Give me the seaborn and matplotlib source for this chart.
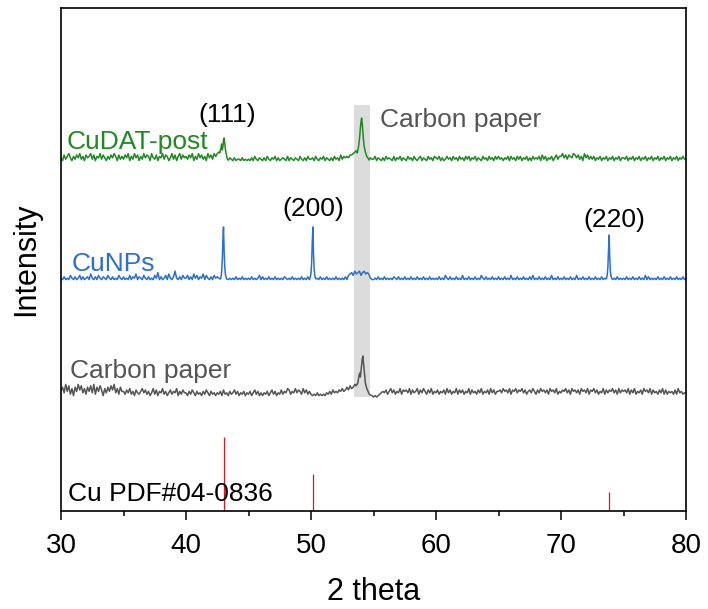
import numpy as np
import pandas as pd
import matplotlib
matplotlib.use("Agg")
import matplotlib.pyplot as plt
from matplotlib.ticker import MultipleLocator
import seaborn as sns

# ---- scan grid (2θ, degrees, 0.125° step) ----
two_theta = np.linspace(30, 80, 401)

# ---- background counts on the grid, one digit per step (arbitrary units) ----
cudat_base = [int(c) for c in (
    "3152463142" "5362415346" "2514362531" "4253641524"
    "2536142635" "1426354163" "2514362541" "3625146253"
    "4253614263" "5241635264" "6700000032" "1312213121"
    "2131421321" "3142132413" "1232141321" "3214213142"
    "2314213241" "3213142315" "2434355678" "0000000032"
    "2413213142" "3214132413" "2142314213" "4132142314"
    "3241312423" "1423142314" "2413241321" "4231423142"
    "4231324142" "3142413241" "3142324152" "4132413524"
    "4635254365" "3524163524" "2413241324" "1324132413"
    "3241324132" "4132413241" "3241324132" "4132413242"
    "2"
)]
cunps_base = [int(c) for c in (
    "2131214213" "1241312315" "2131421321" "4213121421"
    "3121413251" "3214213121" "4261312415" "2137213142"
    "2413152413" "2514213142" "3200000121" "2131213121"
    "2131212413" "1213121312" "1213212131" "2121312131"
    "0000213121" "3121213121" "2131456475" "6746756521"
    "1213121312" "1213213121" "3121312131" "2131213121"
    "2131214213" "1213121412" "1312131214" "2131213121"
    "3121312141" "2131213121" "3141213121" "3121412131"
    "2131213121" "4121312131" "2131213120" "0001213121"
    "2131213121" "3121413121" "2131213121" "3121312131"
    "2"
)]
carbon_base = [int(c) for c in (
    "5739482617" "4958362748" "3927485163" "7485936274"
    "4253624153" "2463524136" "2514362413" "5243614253"
    "3142531423" "1425314231" "3241523142" "3524132413"
    "2413524131" "3241352413" "2524365243" "6354263524"
    "2121312121" "3242534354" "6457586798" "0000000001"
    "0101234352" "4635243625" "4536253462" "5364253624"
    "3524352635" "2436253524" "3625342536" "2435263524"
    "4536453625" "4635463524" "5364253645" "3526453624"
    "3546352645" "3526453625" "4635243625" "3546352635"
    "4536253624" "3526453625" "3425362524" "3425263423"
    "3"
)]
# background digits are in steps of 1.4 counts
bg_unit = 1.4

# ---- finely sampled reflections (2θ, counts) ----
cudat_111_x = [42.70, 42.75, 42.80, 42.85, 42.90, 42.95, 43.00, 43.05,
               43.10, 43.15, 43.20, 43.25, 43.30, 43.35, 43.40]
cudat_111_y = [9, 12, 14, 18, 12, 15, 22, 24, 19, 13, 9, 6, 3, 2, 2]
cudat_c_x = [53.65, 53.70, 53.75, 53.80, 53.85, 53.90, 53.95, 54.00, 54.05,
             54.10, 54.15, 54.20, 54.25, 54.35, 54.45, 54.55, 54.65]
cudat_c_y = [10, 9, 12, 15, 20, 26, 34, 40, 44, 38, 30, 22, 16, 10, 6, 4, 2]

cunps_111_x = [42.75, 42.80, 42.85, 42.90, 42.95, 43.00, 43.05, 43.10, 43.15, 43.20, 43.25]
cunps_111_y = [2, 4, 9, 20, 40, 54, 30, 14, 7, 4, 2]
cunps_200_x = [49.90, 49.95, 50.00, 50.05, 50.10, 50.15, 50.20, 50.25, 50.30, 50.35, 50.40]
cunps_200_y = [2, 4, 8, 18, 38, 54, 28, 12, 6, 3, 2]
cunps_220_x = [73.60, 73.65, 73.70, 73.75, 73.80, 73.85, 73.90, 73.95, 74.00, 74.05, 74.10]
cunps_220_y = [2, 3, 6, 14, 30, 46, 24, 10, 5, 3, 2]

carbon_c_x = [53.65, 53.70, 53.75, 53.80, 53.85, 53.90, 53.95, 54.00, 54.05, 54.10,
              54.15, 54.20, 54.25, 54.30, 54.35, 54.45, 54.55, 54.65, 54.75]
carbon_c_y = [12, 13, 14, 18, 22, 24, 20, 26, 32, 38, 41, 34, 28, 20, 14, 9, 6, 3, 2]

# ---- reference card Cu PDF#04-0836 ----
ref_pos = [43.0, 50.15, 73.85]
ref_int = [74, 37, 19]

# ---- stacking offsets and colours ----
offsets = {"CuDAT-post": 349, "CuNPs": 230, "Carbon paper": 114}
colors = {"CuDAT-post": "#1f8a22", "CuNPs": "#2b6fd2", "Carbon paper": "#555555"}


def build(base, peaks):
    """Background grid with the grid points under each reflection replaced by the fine scan."""
    x = np.asarray(two_theta)
    y = np.asarray(base, dtype=float) * bg_unit
    keep = np.ones_like(x, dtype=bool)
    for px, _ in peaks:
        keep &= ~((x >= min(px) - 1e-9) & (x <= max(px) + 1e-9))
    xs = np.concatenate([x[keep]] + [np.asarray(px) for px, _ in peaks])
    ys = np.concatenate([y[keep]] + [np.asarray(py, dtype=float) for _, py in peaks])
    order = np.argsort(xs)
    return xs[order], ys[order]


patterns = {
    "CuDAT-post": build(cudat_base, [(cudat_111_x, cudat_111_y), (cudat_c_x, cudat_c_y)]),
    "CuNPs": build(cunps_base, [(cunps_111_x, cunps_111_y), (cunps_200_x, cunps_200_y),
                                (cunps_220_x, cunps_220_y)]),
    "Carbon paper": build(carbon_base, [(carbon_c_x, carbon_c_y)]),
}

frames = []
for name, (x, y) in patterns.items():
    frames.append(pd.DataFrame({"two_theta": x, "intensity": y + offsets[name], "sample": name}))
df = pd.concat(frames, ignore_index=True)

sns.set_theme(style="white")
plt.rcParams["font.family"] = ["Liberation Sans", "DejaVu Sans"]
plt.rcParams["text.color"] = "black"
plt.rcParams["axes.labelcolor"] = "black"
plt.rcParams["xtick.color"] = "black"

fig = plt.figure(figsize=(7.08, 6.09), dpi=100)
ax = fig.add_axes([61 / 708, 1 - 511 / 609, 625 / 708, 503 / 609])

# carbon-paper reflection band
ax.fill_betweenx([114, 406], 53.44, 54.72, color="#dcdcdc", lw=0, zorder=0)

sns.lineplot(data=df, x="two_theta", y="intensity", hue="sample", palette=colors,
             estimator=None, sort=True, legend=False, linewidth=1.1, ax=ax, zorder=2)

ax.vlines(ref_pos, 0, ref_int, color="#e0141b", linewidth=0.9, zorder=2)

ax.set_xlim(30, 80)
ax.set_ylim(0, 503)
ax.set_yticks([])
ax.xaxis.set_major_locator(MultipleLocator(10))
ax.xaxis.set_minor_locator(MultipleLocator(5))
ax.tick_params(axis="x", which="major", direction="out", length=6.5, width=1.1,
               labelsize=20, pad=9, bottom=True, colors="black")
ax.tick_params(axis="x", which="minor", direction="out", length=3.8, width=1.1,
               bottom=True, colors="black")
for s in ax.spines.values():
    s.set_color("black")
    s.set_linewidth(1.2)

ax.set_xlabel("2 theta", fontsize=22, labelpad=13, color="black")
ax.set_ylabel("Intensity", fontsize=22, labelpad=14, color="black")

fs = 19
ax.text(30.48, 362, "CuDAT-post", color="#1f8a22", fontsize=fs, va="baseline", ha="left")
ax.text(43.26, 389, "(111)", color="black", fontsize=fs, va="baseline", ha="center")
ax.text(55.52, 384, "Carbon paper", color="#555555", fontsize=fs, va="baseline", ha="left")
ax.text(30.86, 240, "CuNPs", color="#2b6fd2", fontsize=fs, va="baseline", ha="left")
ax.text(50.16, 295, "(200)", color="black", fontsize=fs, va="baseline", ha="center")
ax.text(74.24, 284, "(220)", color="black", fontsize=fs, va="baseline", ha="center")
ax.text(30.72, 133, "Carbon paper", color="#555555", fontsize=fs, va="baseline", ha="left")
ax.text(30.58, 10, "Cu PDF#04-0836", color="black", fontsize=fs, va="baseline", ha="left")

fig.savefig("out.png", dpi=100)
